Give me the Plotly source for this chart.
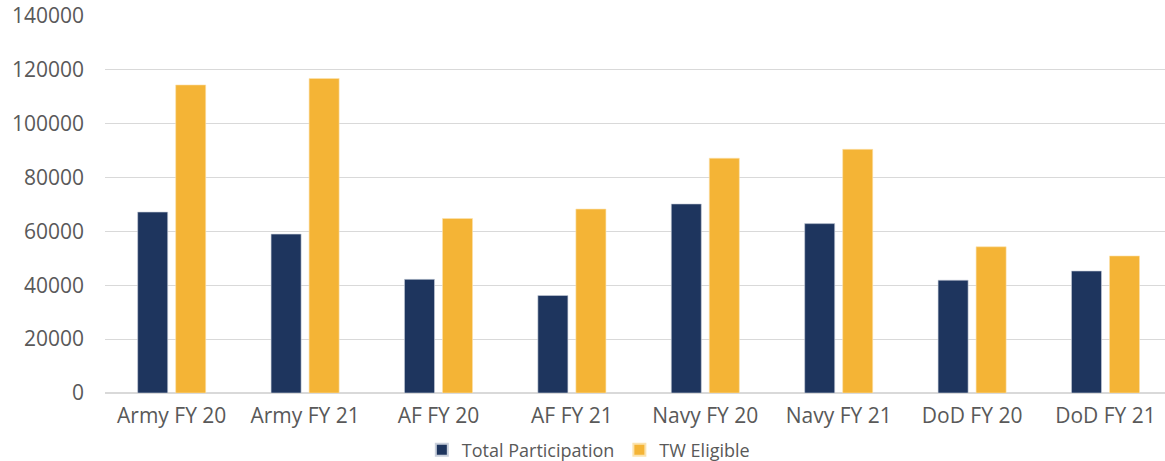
import plotly.graph_objects as go

categories = ["Army FY 20", "Army FY 21", "AF FY 20", "AF FY 21",
              "Navy FY 20", "Navy FY 21", "DoD FY 20", "DoD FY 21"]
total_participation = [67200, 59000, 42200, 36200, 70200, 62900, 41900, 45300]
tw_eligible = [114400, 116800, 64800, 68300, 87200, 90500, 54300, 50900]
y_ticks = [0, 20000, 40000, 60000, 80000, 100000, 120000, 140000]

NAVY = "#1E355E"
GOLD = "#F4B436"
TEXT = "#595959"
FONT = "Open Sans"

fig = go.Figure()
fig.add_trace(go.Bar(x=categories, y=total_participation, name="Total Participation",
                     marker=dict(color=NAVY, line=dict(color="#C9D0DC", width=0.6))))
fig.add_trace(go.Bar(x=categories, y=tw_eligible, name="TW Eligible",
                     marker=dict(color=GOLD, line=dict(color="#FBE3AE", width=0.6))))

fig.update_layout(
    width=1165, height=461,
    margin=dict(l=105, r=0, t=16, b=68, autoexpand=False),
    paper_bgcolor="white", plot_bgcolor="white",
    barmode="group", bargap=0.43, bargroupgap=0.21,
    font=dict(family=FONT, color=TEXT, size=17),
    showlegend=True,
    legend=dict(orientation="h", xref="container", yref="container",
                x=0.505, y=0.024, xanchor="center", yanchor="middle",
                font=dict(size=18, color=TEXT), traceorder="normal",
                itemwidth=30, itemsizing="constant"),
    xaxis=dict(range=[-0.5, 7.446], showgrid=False, showline=False,
               ticks="", tickfont=dict(size=21, color=TEXT), ticklabelstandoff=8),
    yaxis=dict(range=[0, 140000], tickvals=y_ticks, ticktext=[str(v) for v in y_ticks],
               showgrid=True, gridcolor="#D9D9D9", gridwidth=1,
               zeroline=True, zerolinecolor="#D9D9D9", zerolinewidth=1.5,
               showline=False, ticks="", tickfont=dict(size=21, color=TEXT),
               ticklabelstandoff=20),
)

fig.write_html("out.html", config={"displayModeBar": False},
               post_script="document.body.style.margin='0';document.body.style.overflow='hidden';")
